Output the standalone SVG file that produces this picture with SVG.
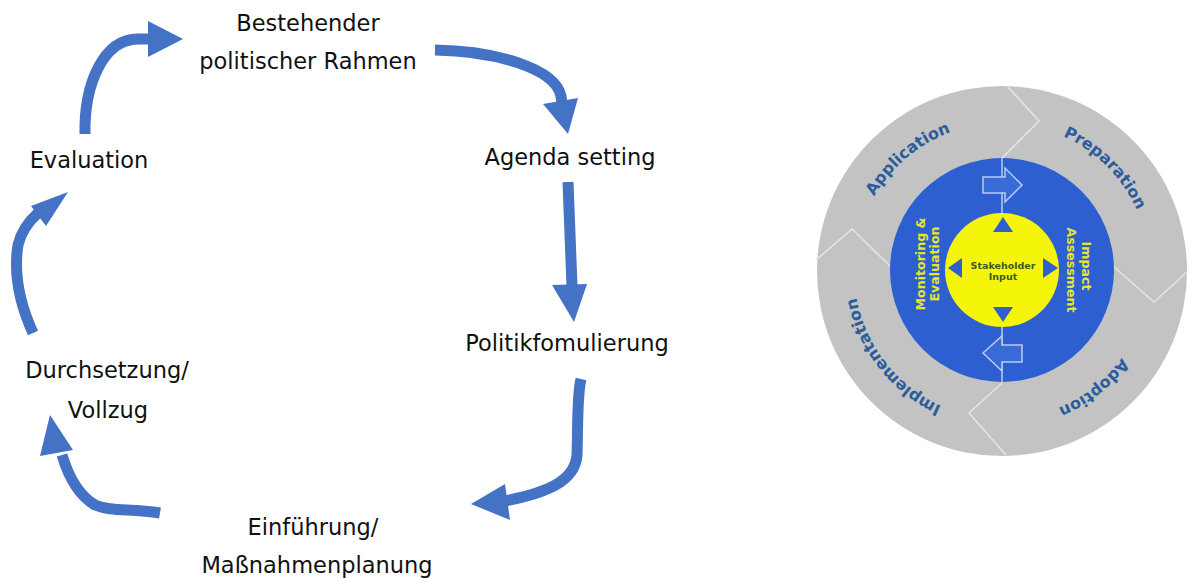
<svg xmlns="http://www.w3.org/2000/svg" width="1189" height="578" viewBox="0 0 1189 578">
<style>
.lbl{font-family:"DejaVu Sans",Verdana,sans-serif;font-size:22.5px;fill:#111;text-anchor:middle}
.flow{fill:none;stroke:#4472C4;stroke-width:11;stroke-linecap:butt}
.head{fill:#4472C4}
.ring{font-family:"DejaVu Sans",sans-serif;font-weight:bold;font-size:16px;fill:#2b5c9c;text-anchor:middle}
.yel{font-family:"DejaVu Sans",sans-serif;font-weight:bold;font-size:12.6px;fill:#e6e62a;text-anchor:middle}
.sep{fill:none;stroke:#e4e4e4;stroke-width:1.6}
.tri{fill:#2e5fcc}
.stk{font-family:"DejaVu Sans",sans-serif;font-weight:bold;font-size:9.5px;fill:#3c5a22;text-anchor:middle}
</style>
<defs>
<path id="circ" d="M 1150 271 A 148 148 0 1 1 854 271 A 148 148 0 1 1 1150 271"/>
</defs>
<rect width="1189" height="578" fill="#fff"/>

<g id="connectors">
<path class="flow" d="M 85 134 C 84 85 103 39 138 39 L 150 39"/>
<polygon class="head" points="148,21 183,39 148,57"/>
<path class="flow" d="M 435 50 C 495 51 555 68 561 96 L 562 104"/>
<polygon class="head" points="543,104 578,98 568,134"/>
<path class="flow" d="M 568 182 L 572 286"/>
<polygon class="head" points="552,285 587,284 574,322"/>
<path class="flow" d="M 581 379 C 577 395 578 425 577 455 C 575 482 545 493 505 501"/>
<polygon class="head" points="505,484 510,520 471,504"/>
<path class="flow" d="M 160 513 C 130 508 112 512 95 505 C 78 495 68 475 62 455"/>
<polygon class="head" points="40,456 73,450 50,415"/>
<path class="flow" d="M 33 333 C 18 300 14 270 18 245 C 21 232 28 222 38 213"/>
<polygon class="head" points="31,206 68,192 46,226"/>
</g>

<g id="n-bestehender"><text class="lbl" x="308" y="31">Bestehender</text><text class="lbl" x="308" y="69">politischer Rahmen</text></g>
<g id="n-agenda"><text class="lbl" x="570" y="165">Agenda setting</text></g>
<g id="n-politik"><text class="lbl" x="567" y="351">Politikfomulierung</text></g>
<g id="n-einfuehrung"><text class="lbl" x="313" y="535">Einführung/</text><text class="lbl" x="317" y="573">Maßnahmenplanung</text></g>
<g id="n-durchsetzung"><text class="lbl" x="107" y="378">Durchsetzung/</text><text class="lbl" x="108" y="418">Vollzug</text></g>
<g id="n-evaluation"><text class="lbl" x="89" y="168">Evaluation</text></g>

<g id="cycle">
<circle cx="1002" cy="271" r="185" fill="#c3c3c3"/>
<path class="sep" d="M 1002 158 L 1039 121 L 1008 87"/>
<path class="sep" d="M 890 266 L 852 229 L 816 260"/>
<path class="sep" d="M 1114 267 L 1154 302 L 1187 272"/>
<path class="sep" d="M 1002 383 L 969 413 L 1006 455"/>
<circle cx="1002" cy="270" r="112" fill="#2d5fd0"/>
<line x1="1002" y1="158" x2="1002" y2="214" stroke="#b9cdee" stroke-width="1.5"/>
<line x1="1002" y1="326" x2="1002" y2="382" stroke="#b9cdee" stroke-width="1.5"/>
<path d="M 983 177 L 1005 177 L 1005 168 L 1022 185 L 1005 202 L 1005 193 L 983 193 Z" fill="#3a6ad6" stroke="#b9cdee" stroke-width="1.5"/>
<path d="M 1022 345 L 1002 345 L 1002 336 L 983 353 L 1002 371 L 1002 362 L 1022 362 Z" fill="#3a6ad6" stroke="#b9cdee" stroke-width="1.5"/>
<circle cx="1002" cy="270" r="57" fill="#f5f50a"/>
<polygon class="tri" points="1003,217 993,232 1013,232"/>
<polygon class="tri" points="1003,322 993,307 1013,307"/>
<polygon class="tri" points="948,268 962,258 962,278"/>
<polygon class="tri" points="1058,268 1043,258 1043,278"/>
<text class="stk" x="1003" y="269">Stakeholder</text>
<text class="stk" x="1003" y="280">Input</text>
<text class="yel" transform="translate(925,264) rotate(-90)">Monitoring &amp;</text>
<text class="yel" transform="translate(939,264) rotate(-90)">Evaluation</text>
<text class="yel" transform="translate(1082,266) rotate(90)">Impact</text>
<text class="yel" transform="translate(1067,270) rotate(90)">Assessment</text>
<text class="ring"><textPath href="#circ" startOffset="63.9%">Application</textPath></text>
<text class="ring"><textPath href="#circ" startOffset="87.5%">Preparation</textPath></text>
<text class="ring"><textPath href="#circ" startOffset="14.4%">Adoption</textPath></text>
<text class="ring"><textPath href="#circ" startOffset="39.4%">Implementation</textPath></text>
</g>
</svg>
